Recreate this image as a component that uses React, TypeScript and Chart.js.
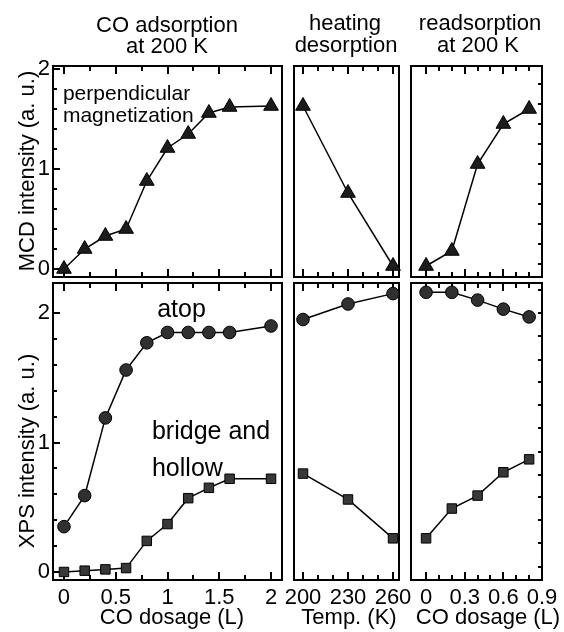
import React, { useEffect, useRef } from 'react';
import { Chart, registerables } from 'chart.js';

Chart.register(...registerables);

const W = 564;
const H = 632;
const FONT = '"Liberation Sans", Arial, Helvetica, sans-serif';

// CO adsorption at 200 K
const adsorptionDose = [0, 0.2, 0.4, 0.6, 0.8, 1.0, 1.2, 1.4, 1.6, 2.0];
const adsorptionMcd = [0.0, 0.2, 0.33, 0.4, 0.88, 1.21, 1.35, 1.56, 1.62, 1.63];
const adsorptionAtop = [0.35, 0.59, 1.19, 1.56, 1.77, 1.85, 1.85, 1.85, 1.85, 1.9];
const adsorptionBridgeHollow = [0.0, 0.01, 0.02, 0.03, 0.24, 0.37, 0.57, 0.65, 0.72, 0.72];

// heating desorption
const heatingTemp = [200, 230, 260];
const heatingMcd = [1.63, 0.76, 0.03];
const heatingAtop = [1.95, 2.07, 2.15];
const heatingBridgeHollow = [0.76, 0.56, 0.26];

// readsorption at 200 K
const readsorptionDose = [0, 0.2, 0.4, 0.6, 0.8];
const readsorptionMcd = [0.03, 0.18, 1.05, 1.45, 1.6];
const readsorptionAtop = [2.16, 2.16, 2.1, 2.03, 1.97];
const readsorptionBridgeHollow = [0.26, 0.49, 0.59, 0.77, 0.87];

// tick values and labels
const doseLabels = [0, 0.5, 1, 1.5, 2];
const doseMinor = [0.25, 0.75, 1.25, 1.75];
const tempLabels = [200, 230, 260];
const tempMinor = [210, 220, 240, 250];
const redoseLabels = [0, 0.3, 0.6, 0.9];
const redoseMajor = [0, 0.3, 0.6];
const redoseMinor = [0.1, 0.2, 0.4, 0.5, 0.7, 0.8];
const intensityLabels = [0, 1, 2];
const intensityMinor = [0.2, 0.4, 0.6, 0.8, 1.2, 1.4, 1.6, 1.8];
const mcdRightTicks = [0.05, 0.25, 0.45, 0.65, 0.85, 1.05, 1.25, 1.45, 1.65, 1.85];
const xpsRightTicks = [0.04, 0.22, 0.4, 0.58, 0.75, 0.93, 1.11, 1.29, 1.47, 1.64, 1.82, 2.0, 2.18];

// axis ranges
const doseRange = [-0.106, 2.106];
const tempRange = [194, 264];
const redoseRange = [-0.117, 0.9];
const mcdRange = [-0.08, 2.03];
const xpsRange = [-0.062, 2.232];

// panel frames on the page: [start, end] in px
const COLS = { left: [53, 282], mid: [294, 399], right: [411, 542] };
const ROWS = { top: [66, 277], bottom: [283, 580] };

const TRIANGLE = { style: 'triangle', radius: 8.5, fill: '#1c1c1c' };
const CIRCLE = { style: 'circle', radius: 6.3, fill: '#303030' };
const SQUARE = { style: 'rect', radius: 6.7, fill: '#383838' };

type Marker = { style: string; radius: number; fill: string };
type Series = { xs: number[]; ys: number[]; marker: Marker };
type TextItem = {
  text: string;
  x: number;
  y: number;
  size: number;
  align: CanvasTextAlign;
  data?: boolean;
  vertical?: boolean;
};
type PanelSpec = {
  col: number[];
  row: number[];
  xRange: number[];
  yRange: number[];
  xLabels: number[] | null;
  xMajor: number[];
  xMinor: number[];
  yLabels: number[] | null;
  ySide: 'left' | 'right' | 'none';
  yMajor: number[];
  yMinor: number[];
  series: Series[];
  texts: TextItem[];
};

const PANELS: PanelSpec[] = [
  {
    col: COLS.left, row: ROWS.top, xRange: doseRange, yRange: mcdRange,
    xLabels: null, xMajor: doseLabels, xMinor: doseMinor,
    yLabels: intensityLabels, ySide: 'left', yMajor: intensityLabels, yMinor: intensityMinor,
    series: [{ xs: adsorptionDose, ys: adsorptionMcd, marker: TRIANGLE }],
    texts: [
      { text: 'CO adsorption', x: 167, y: 32, size: 22, align: 'center' },
      { text: 'at 200 K', x: 167, y: 53, size: 22, align: 'center' },
      { text: 'MCD intensity (a. u.)', x: 28, y: 171, size: 22, align: 'center', vertical: true },
      { text: 'perpendicular', x: -0.01, y: 1.69, size: 21, align: 'left', data: true },
      { text: 'magnetization', x: -0.01, y: 1.47, size: 21, align: 'left', data: true },
    ],
  },
  {
    col: COLS.left, row: ROWS.bottom, xRange: doseRange, yRange: xpsRange,
    xLabels: doseLabels, xMajor: doseLabels, xMinor: doseMinor,
    yLabels: intensityLabels, ySide: 'left', yMajor: intensityLabels, yMinor: intensityMinor,
    series: [
      { xs: adsorptionDose, ys: adsorptionAtop, marker: CIRCLE },
      { xs: adsorptionDose, ys: adsorptionBridgeHollow, marker: SQUARE },
    ],
    texts: [
      { text: 'XPS intensity (a. u.)', x: 28, y: 451, size: 22, align: 'center', vertical: true },
      { text: 'CO dosage (L)', x: 172, y: 624, size: 22, align: 'center' },
      { text: 'atop', x: 0.9, y: 1.97, size: 25, align: 'left', data: true },
      { text: 'bridge and', x: 0.85, y: 1.025, size: 25, align: 'left', data: true },
      { text: 'hollow', x: 0.85, y: 0.74, size: 25, align: 'left', data: true },
    ],
  },
  {
    col: COLS.mid, row: ROWS.top, xRange: tempRange, yRange: mcdRange,
    xLabels: null, xMajor: tempLabels, xMinor: tempMinor,
    yLabels: null, ySide: 'none', yMajor: [], yMinor: [],
    series: [{ xs: heatingTemp, ys: heatingMcd, marker: TRIANGLE }],
    texts: [
      { text: 'heating', x: 345, y: 30, size: 22, align: 'center' },
      { text: 'desorption', x: 346, y: 52, size: 22, align: 'center' },
    ],
  },
  {
    col: COLS.mid, row: ROWS.bottom, xRange: tempRange, yRange: xpsRange,
    xLabels: tempLabels, xMajor: tempLabels, xMinor: tempMinor,
    yLabels: null, ySide: 'none', yMajor: [], yMinor: [],
    series: [
      { xs: heatingTemp, ys: heatingAtop, marker: CIRCLE },
      { xs: heatingTemp, ys: heatingBridgeHollow, marker: SQUARE },
    ],
    texts: [{ text: 'Temp. (K)', x: 349, y: 624, size: 22, align: 'center' }],
  },
  {
    col: COLS.right, row: ROWS.top, xRange: redoseRange, yRange: mcdRange,
    xLabels: null, xMajor: redoseMajor, xMinor: redoseMinor,
    yLabels: null, ySide: 'right', yMajor: [], yMinor: mcdRightTicks,
    series: [{ xs: readsorptionDose, ys: readsorptionMcd, marker: TRIANGLE }],
    texts: [
      { text: 'readsorption', x: 480, y: 30, size: 22, align: 'center' },
      { text: 'at 200 K', x: 478, y: 52, size: 22, align: 'center' },
    ],
  },
  {
    col: COLS.right, row: ROWS.bottom, xRange: redoseRange, yRange: xpsRange,
    xLabels: redoseLabels, xMajor: redoseMajor, xMinor: redoseMinor,
    yLabels: null, ySide: 'right', yMajor: [], yMinor: xpsRightTicks,
    series: [
      { xs: readsorptionDose, ys: readsorptionAtop, marker: CIRCLE },
      { xs: readsorptionDose, ys: readsorptionBridgeHollow, marker: SQUARE },
    ],
    texts: [{ text: 'CO dosage (L)', x: 488, y: 624, size: 22, align: 'center' }],
  },
];

// Frame, inward tick marks and annotation text for one panel
function panelDecor(spec: PanelSpec) {
  return {
    id: 'panelDecor',
    beforeDatasetsDraw(chart: any) {
      const { ctx, chartArea: a } = chart;
      const xs = chart.scales.x;
      const ys = chart.scales.y;
      ctx.save();
      ctx.strokeStyle = '#000';
      ctx.lineWidth = 2;
      ctx.beginPath();
      const xTick = (v: number, len: number) => {
        const p = Math.round(xs.getPixelForValue(v));
        ctx.moveTo(p, a.top);
        ctx.lineTo(p, a.top + len);
        ctx.moveTo(p, a.bottom);
        ctx.lineTo(p, a.bottom - len);
      };
      const yTick = (v: number, len: number) => {
        const p = Math.round(ys.getPixelForValue(v));
        if (spec.ySide === 'left') {
          ctx.moveTo(a.left, p);
          ctx.lineTo(a.left + len, p);
        } else if (spec.ySide === 'right') {
          ctx.moveTo(a.right, p);
          ctx.lineTo(a.right - len, p);
        }
      };
      spec.xMajor.forEach((v) => xTick(v, 8));
      spec.xMinor.forEach((v) => xTick(v, 5));
      spec.yMajor.forEach((v) => yTick(v, 7));
      spec.yMinor.forEach((v) => yTick(v, 4));
      ctx.stroke();
      ctx.strokeRect(a.left, a.top, a.right - a.left, a.bottom - a.top);
      ctx.restore();
    },
    afterDraw(chart: any) {
      const { ctx } = chart;
      const xs = chart.scales.x;
      const ys = chart.scales.y;
      ctx.save();
      ctx.fillStyle = '#000';
      for (const t of spec.texts) {
        ctx.font = `${t.size}px ${FONT}`;
        ctx.textAlign = t.align;
        const x = t.data ? xs.getPixelForValue(t.x) : t.x;
        const y = t.data ? ys.getPixelForValue(t.y) : t.y;
        if (t.vertical) {
          ctx.save();
          ctx.translate(x, y);
          ctx.rotate(-Math.PI / 2);
          ctx.textBaseline = 'middle';
          ctx.fillText(t.text, 0, 0);
          ctx.restore();
        } else {
          ctx.textBaseline = 'alphabetic';
          ctx.fillText(t.text, x, y);
        }
      }
      ctx.restore();
    },
  };
}

function buildChart(canvas: HTMLCanvasElement, spec: PanelSpec) {
  const [left, right] = spec.col;
  const [top, bottom] = spec.row;
  const yW = spec.yLabels ? 30 : 0;
  const xH = spec.xLabels ? 40 : 0;
  const tickFont = { family: FONT, size: 22, lineHeight: 1.2 };
  return new Chart(canvas, {
    type: 'line',
    data: {
      datasets: spec.series.map((s) => ({
        data: s.xs.map((x, i) => ({ x, y: s.ys[i] })),
        borderColor: '#000',
        borderWidth: 1.5,
        tension: 0,
        clip: false,
        pointStyle: s.marker.style as any,
        pointRadius: s.marker.radius,
        pointBackgroundColor: s.marker.fill,
        pointBorderColor: '#000',
        pointBorderWidth: 1,
      })),
    },
    options: {
      responsive: false,
      animation: false,
      devicePixelRatio: 1,
      events: [],
      layout: {
        padding: { left: left - yW, top, right: W - right, bottom: H - bottom - xH },
      },
      plugins: { legend: { display: false }, tooltip: { enabled: false } },
      scales: {
        x: {
          type: 'linear',
          position: 'bottom',
          min: spec.xRange[0],
          max: spec.xRange[1],
          grid: { display: false, drawTicks: false },
          border: { display: false },
          ticks: {
            display: !!spec.xLabels,
            color: '#000',
            font: tickFont,
            padding: 5,
            maxRotation: 0,
            autoSkip: false,
            callback: (v: any) => String(v),
          },
          afterBuildTicks: (s: any) => {
            s.ticks = (spec.xLabels ?? []).map((value) => ({ value }));
          },
          afterFit: (s: any) => {
            s.height = xH;
          },
        },
        y: {
          type: 'linear',
          position: 'left',
          min: spec.yRange[0],
          max: spec.yRange[1],
          grid: { display: false, drawTicks: false },
          border: { display: false },
          ticks: {
            display: !!spec.yLabels,
            color: '#000',
            font: tickFont,
            padding: 3,
            autoSkip: false,
            callback: (v: any) => String(v),
          },
          afterBuildTicks: (s: any) => {
            s.ticks = (spec.yLabels ?? []).map((value) => ({ value }));
          },
          afterFit: (s: any) => {
            s.width = yW;
          },
        },
      },
    },
    plugins: [panelDecor(spec)],
  } as any);
}

function Panel({ spec }: { spec: PanelSpec }) {
  const ref = useRef<HTMLCanvasElement>(null);
  useEffect(() => {
    if (!ref.current) return;
    const chart = buildChart(ref.current, spec);
    return () => chart.destroy();
  }, [spec]);
  return (
    <canvas
      ref={ref}
      width={W}
      height={H}
      style={{ position: 'absolute', left: 0, top: 0 }}
    />
  );
}

export default function App() {
  return (
    <div style={{ position: 'absolute', left: 0, top: 0, width: W, height: H, background: '#fff' }}>
      {PANELS.map((p, i) => (
        <Panel key={i} spec={p} />
      ))}
    </div>
  );
}
